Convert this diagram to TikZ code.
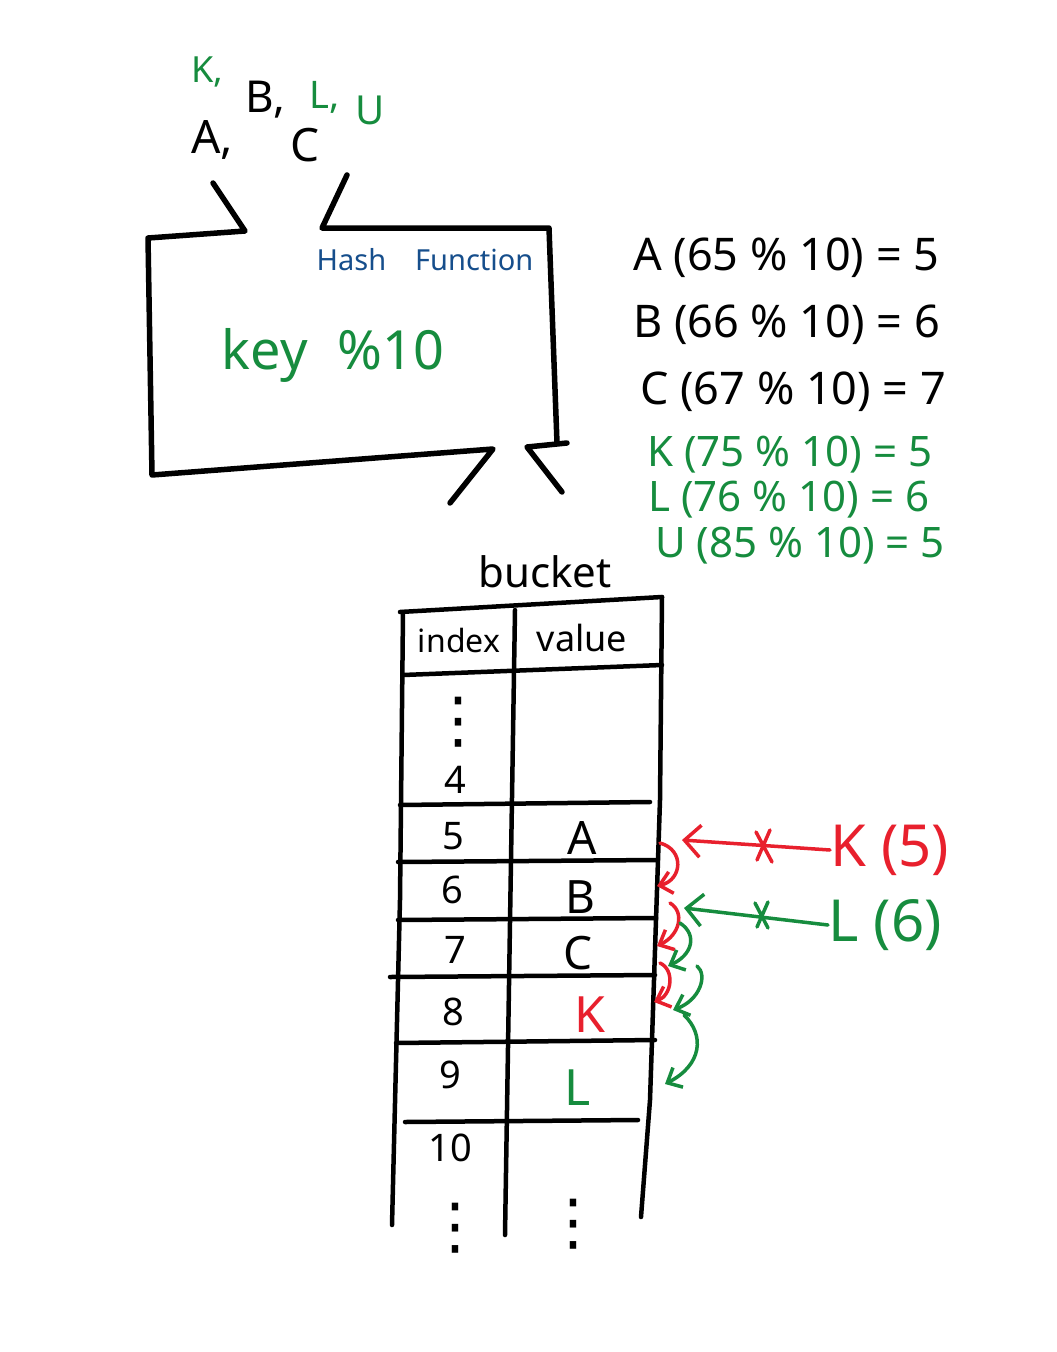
\documentclass[tikz,border=0pt]{standalone}
\usepackage{fontspec}
\setmainfont{Noto Sans}
\newfontfamily\symfont{DejaVu Sans}
\usetikzlibrary{arrows.meta}
\definecolor{hgreen}{RGB}{22,140,62}
\definecolor{hred}{RGB}{232,32,45}
\definecolor{hblue}{RGB}{22,78,140}
\begin{document}
\begin{tikzpicture}[x=1pt,y=-1pt,
  pen/.style={line width=4.5pt,line cap=round,line join=round},
  boxpen/.style={line width=5.5pt,line cap=round,line join=round},
  penthin/.style={line width=3.5pt,line cap=round,line join=round},
  txt/.style={inner sep=0pt,font=\fontsize{#1}{#1}\selectfont},
  txt/.default=40,
  vdot/.style={inner sep=0pt,font=\fontsize{62}{62}\selectfont\symfont},
  redarrow/.style={penthin,hred,-{Straight Barb[length=12pt,width=22pt,line width=3.5pt]}},
  greenarrow/.style={penthin,hgreen,-{Straight Barb[length=12pt,width=22pt,line width=3.5pt]}},
  bigred/.style={penthin,hred,-{Straight Barb[length=16pt,width=32pt,line width=3.5pt]}},
  biggreen/.style={penthin,hgreen,-{Straight Barb[length=16pt,width=32pt,line width=3.5pt]}}]
\useasboundingbox (0,0) rectangle (1057,1352);
\fill[white] (0,0) rectangle (1057,1352);

% input keys
\node[txt=36,text=hgreen] (tK) at (207,72) {K,};
\node[txt=44] (tB) at (265,100) {B,};
\node[txt=38,text=hgreen] (tL) at (325,97) {L,};
\node[txt=40,text=hgreen] (tU) at (370,110) {U};
\node[txt=46] (tA) at (212,140) {A,};
\node[txt=46] (tC) at (305,145) {C};

% hash function box
\draw[boxpen] (213,183) -- (245,231) -- (148,238) -- (152,475) -- (493,449) -- (450,503);
\draw[boxpen] (347,175) -- (322,228) -- (549,228) -- (557,443);
\draw[boxpen] (567,443) -- (527,447) -- (562,492);
\node[txt=29,text=hblue] (hf) at (425,260) {Hash\quad Function};
\node[txt=54,text=hgreen] (kf) at (333,355) {key\;\;\%10};

% equations
\node[txt=45,anchor=west] (eA) at (633,258) {A (65 \% 10) = 5};
\node[txt=45,anchor=west] (eB) at (633,325) {B (66 \% 10) = 6};
\node[txt=45,anchor=west] (eC) at (640,392) {C (67 \% 10) = 7};
\node[txt=42,anchor=west,text=hgreen] (eK) at (647,455) {K (75 \% 10) = 5};
\node[txt=42,anchor=west,text=hgreen] (eL) at (648,500) {L (76 \% 10) = 6};
\node[txt=42,anchor=west,text=hgreen] (eU) at (655,546) {U (85 \% 10) = 5};

% bucket table
\node[txt=42] (bk) at (545,572) {bucket};
\draw[pen] (400,612) -- (662,597);
\draw[pen] (403,612) -- (400,900) -- (392,1225);
\draw[pen] (662,597) -- (660,800) -- (650,1100) -- (641,1217);
\draw[pen] (515,610) -- (505,1235);
\draw[pen] (403,675) -- (662,665);
\draw[pen] (400,805) -- (650,802);
\draw[pen] (398,862) -- (657,860);
\draw[pen] (398,920) -- (656,918);
\draw[pen] (390,977) -- (655,975);
\draw[pen] (396,1043) -- (655,1040);
\draw[pen] (405,1122) -- (638,1120);

\node[txt=32] (hi) at (459,640) {index};
\node[txt=36] (hv) at (582,638) {value};
\node[vdot] (d0) at (458,722) {⋮};
\node[txt=38] (i4) at (455,780) {4};
\node[txt=38] (i5) at (453,836) {5};
\node[txt=38] (i6) at (452,890) {6};
\node[txt=38] (i7) at (455,950) {7};
\node[txt=38] (i8) at (453,1012) {8};
\node[txt=38] (i9) at (450,1075) {9};
\node[txt=38] (i10) at (450,1148) {10};
\node[vdot] (d1) at (455,1228) {⋮};
\node[vdot] (d2) at (573,1224) {⋮};
\node[txt=46] (vA) at (582,838) {A};
\node[txt=46] (vB) at (580,897) {B};
\node[txt=46] (vC) at (578,953) {C};
\node[txt=50,text=hred] (vK) at (590,1015) {K};
\node[txt=50,text=hgreen] (vL) at (578,1088) {L};

% insertion arrows
\node[txt=58,anchor=west,text=hred] (K5) at (830,850) {K (5)};
\node[txt=58,anchor=west,text=hgreen] (L6) at (828,925) {L (6)};
\coordinate (s5) at (682,840);
\coordinate (s6) at (684,908);
\draw[bigred] (K5.west) -- (s5);
\draw[biggreen] (L6.west) -- (s6);
\draw[penthin,hred] (756,832) -- (772,862) (770,830) -- (757,860);
\draw[penthin,hgreen] (755,903) -- (768,928) (768,902) -- (757,927);

% probing arrows
\coordinate (r1a) at (660,843); \coordinate (r1b) at (657,886);
\coordinate (r2a) at (670,903); \coordinate (r2b) at (657,946);
\coordinate (r3a) at (660,963); \coordinate (r3b) at (654,1002);
\coordinate (g1a) at (680,923); \coordinate (g1b) at (668,966);
\coordinate (g2a) at (697,966); \coordinate (g2b) at (673,1010);
\coordinate (g3a) at (684,1015); \coordinate (g3b) at (665,1084);
\draw[redarrow] (r1a) .. controls (685,850) and (682,880) .. (r1b);
\draw[redarrow] (r2a) .. controls (685,912) and (680,935) .. (r2b);
\draw[redarrow] (r3a) .. controls (675,970) and (672,995) .. (r3b);
\draw[greenarrow] (g1a) .. controls (698,935) and (692,955) .. (g1b);
\draw[greenarrow] (g2a) .. controls (708,975) and (700,1000) .. (g2b);
\draw[greenarrow] (g3a) .. controls (705,1035) and (702,1065) .. (g3b);
\end{tikzpicture}
\end{document}
